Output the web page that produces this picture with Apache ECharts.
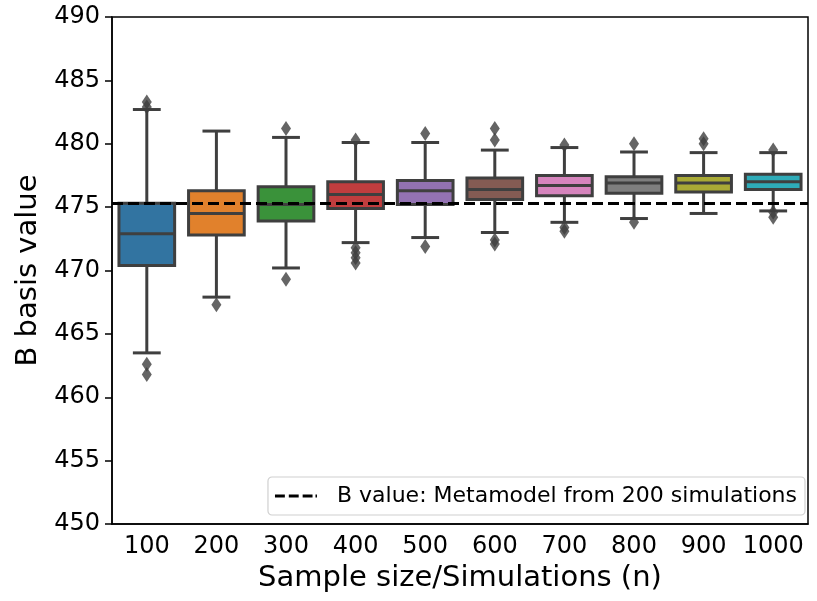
<!DOCTYPE html>
<html>
<head>
<meta charset="utf-8">
<script src="https://cdn.jsdelivr.net/npm/echarts@6/dist/echarts.min.js"></script>
<style>
  html, body { margin: 0; padding: 0; background: #fff; }
  #chart { width: 817px; height: 601px; }
</style>
</head>
<body>
<div id="chart"></div>
<script>
// categories (sample size)
const categories = ['100', '200', '300', '400', '500', '600', '700', '800', '900', '1000'];

// box statistics
const whiskerLow = [463.5, 467.9, 470.2, 472.2, 472.6, 473.0, 473.8, 474.1, 474.5, 474.7];
const q1 =         [470.4, 472.8, 473.9, 474.9, 475.2, 475.6, 475.9, 476.1, 476.2, 476.4];
const median =     [472.9, 474.5, 475.2, 476.0, 476.3, 476.4, 476.7, 476.9, 476.9, 477.0];
const q3 =         [475.3, 476.3, 476.6, 477.0, 477.1, 477.3, 477.5, 477.4, 477.5, 477.6];
const whiskerHigh =[482.7, 481.0, 480.5, 480.1, 480.1, 479.5, 479.7, 479.35, 479.3, 479.3];

// outliers: [category index, value]
const outliers = [
  [0, 483.3], [0, 482.9], [0, 462.6], [0, 461.8],
  [1, 467.3],
  [2, 481.2], [2, 469.3],
  [3, 480.3], [3, 471.8], [3, 471.4], [3, 471.0], [3, 470.6],
  [4, 480.8], [4, 471.9],
  [5, 481.2], [5, 480.3], [5, 472.4], [5, 472.1],
  [6, 479.9], [6, 473.4], [6, 473.1],
  [7, 480.0], [7, 473.8],
  [8, 480.4], [8, 480.0],
  [9, 479.5], [9, 474.6], [9, 474.2]
];

const bValue = 475.3;
const bName = 'B value: Metamodel from 200 simulations';

const boxColors = ['#3274a1', '#e1812c', '#3a923a', '#c03d3e', '#9372b2',
                   '#845b53', '#d684bd', '#7f7f7f', '#a9aa35', '#2eabb8'];
const edge = '#3f3f3f';

const boxData = categories.map((c, i) => [i, whiskerLow[i], q1[i], median[i], q3[i], whiskerHigh[i]]);

const chart = echarts.init(document.getElementById('chart'));

const renderBox = (params, api) => {
  const i = api.value(0);
  const band = api.size([1, 0])[0];
  const half = band * 0.4;
  const cap = band * 0.2;
  const pLow = api.coord([i, api.value(1)]);
  const pQ1 = api.coord([i, api.value(2)]);
  const pMed = api.coord([i, api.value(3)]);
  const pQ3 = api.coord([i, api.value(4)]);
  const pHigh = api.coord([i, api.value(5)]);
  const x = pQ1[0];
  const line = { stroke: edge, lineWidth: 3 };
  return {
    type: 'group',
    children: [
      { type: 'line', shape: { x1: x, y1: pQ1[1], x2: x, y2: pLow[1] }, style: line },
      { type: 'line', shape: { x1: x, y1: pQ3[1], x2: x, y2: pHigh[1] }, style: line },
      { type: 'line', shape: { x1: x - cap, y1: pLow[1], x2: x + cap, y2: pLow[1] }, style: line },
      { type: 'line', shape: { x1: x - cap, y1: pHigh[1], x2: x + cap, y2: pHigh[1] }, style: line },
      {
        type: 'rect',
        shape: { x: x - half, y: pQ3[1], width: half * 2, height: pQ1[1] - pQ3[1] },
        style: { fill: boxColors[i], stroke: edge, lineWidth: 3 }
      },
      { type: 'line', shape: { x1: x - half, y1: pMed[1], x2: x + half, y2: pMed[1] }, style: line }
    ]
  };
};

const option = {
  animation: false,
  grid: {
    left: 112, right: 9, top: 17, bottom: 77,
    show: true, borderColor: '#000', borderWidth: 1.5, backgroundColor: 'transparent'
  },
  legend: {
    data: [{ name: bName, icon: 'path://M0,0h10v3h-10z M14,0h10v3h-10z M28,0h10v3h-10z M41,0h1.5v3h-1.5z' }],
    right: 12,
    top: 477,
    padding: [8, 8, 8, 7],
    itemWidth: 42,
    itemHeight: 3,
    itemStyle: { color: '#000' },
    borderColor: '#d0d0d0',
    borderWidth: 1.2,
    borderRadius: 4,
    textStyle: { fontFamily: 'DejaVu Sans', fontSize: 22, color: '#000', padding: [0, 0, 0, 15] }
  },
  xAxis: {
    type: 'category',
    data: categories,
    name: 'Sample size/Simulations (n)',
    nameLocation: 'middle',
    nameGap: 40,
    nameTextStyle: { fontFamily: 'DejaVu Sans', fontSize: 29, color: '#000' },
    axisLine: { lineStyle: { color: '#000', width: 1.5 } },
    axisTick: { alignWithLabel: true, length: 7, lineStyle: { color: '#000', width: 1.5 } },
    axisLabel: { interval: 0, fontFamily: 'DejaVu Sans', fontSize: 24, color: '#000', margin: 11 },
    splitLine: { show: false }
  },
  yAxis: {
    type: 'value',
    min: 450,
    max: 490,
    interval: 5,
    name: 'B basis value',
    nameLocation: 'middle',
    nameGap: 67,
    nameTextStyle: { fontFamily: 'DejaVu Sans', fontSize: 29, color: '#000' },
    axisLine: { show: true, lineStyle: { color: '#000', width: 1.5 } },
    axisTick: { show: true, length: 7, lineStyle: { color: '#000', width: 1.5 } },
    axisLabel: { fontFamily: 'DejaVu Sans', fontSize: 24, color: '#000', margin: 12 },
    splitLine: { show: false }
  },
  series: [
    {
      type: 'custom',
      renderItem: renderBox,
      data: boxData,
      encode: { x: 0, y: [1, 2, 3, 4, 5] },
      z: 2
    },
    {
      type: 'scatter',
      data: outliers,
      symbol: 'diamond',
      symbolSize: [10, 15],
      itemStyle: { color: edge },
      z: 3
    },
    {
      name: bName,
      type: 'line',
      data: [],
      symbol: 'none',
      itemStyle: { color: '#000' },
      lineStyle: { color: '#000', width: 3, type: [11, 5] },
      markLine: {
        silent: true,
        symbol: 'none',
        label: { show: false },
        lineStyle: { color: '#000', width: 3, type: [11, 5] },
        data: [{ yAxis: bValue }]
      },
      z: 4
    }
  ]
};

chart.setOption(option);
</script>
</body>
</html>
